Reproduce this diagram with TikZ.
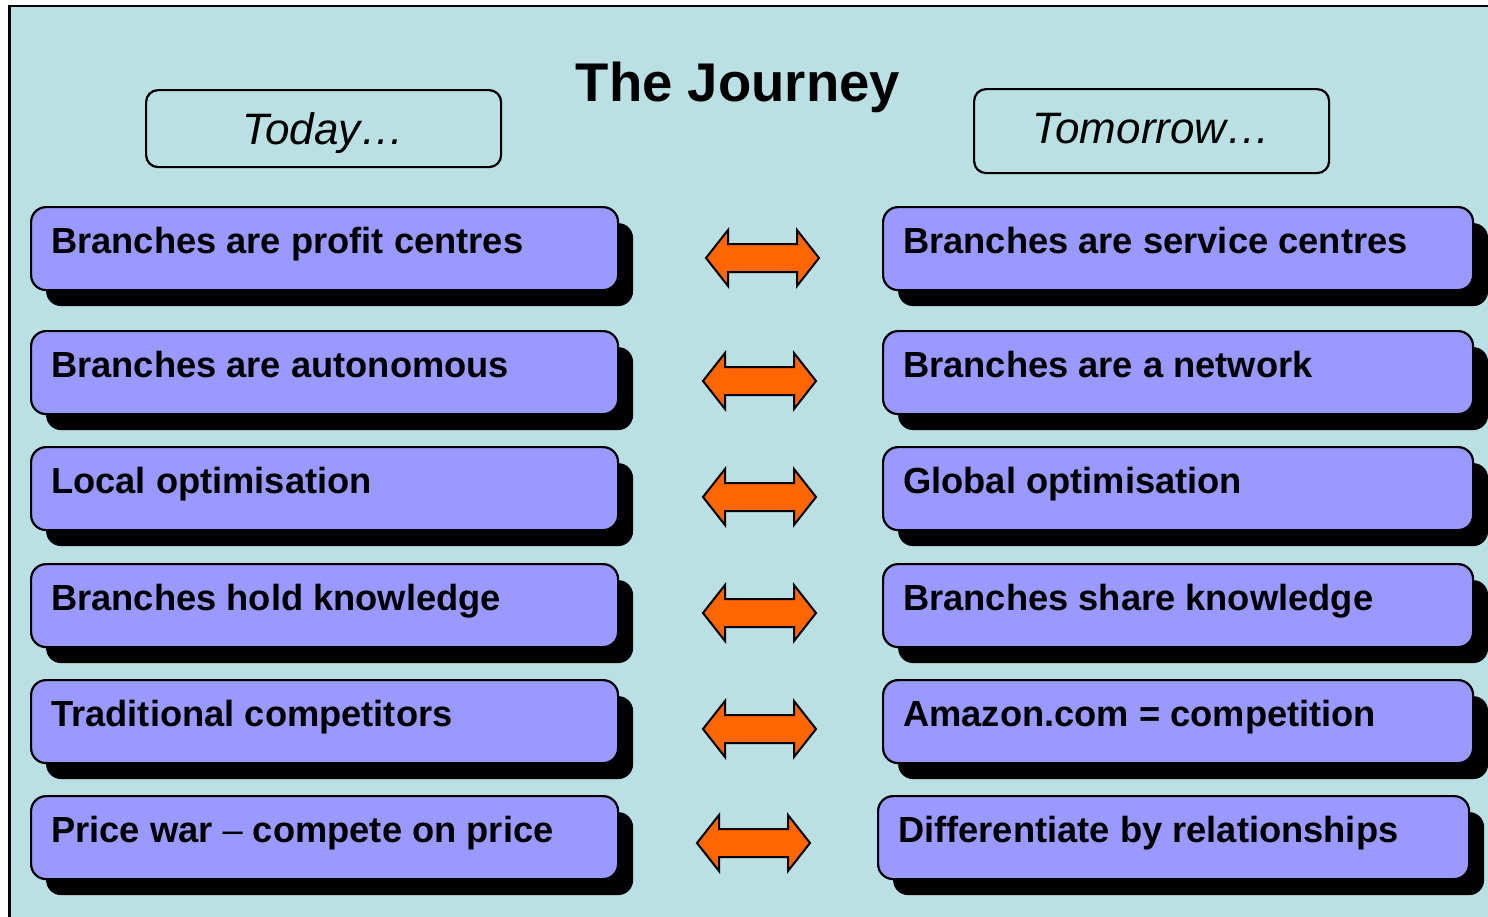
\documentclass[tikz,border=0pt]{standalone}
\usepackage{fontspec}
\setmainfont{Liberation Sans}
\usetikzlibrary{shadows}

\definecolor{slidebg}{HTML}{BBE0E3}
\definecolor{boxfill}{HTML}{9999FF}
\definecolor{arrowfill}{HTML}{FF6600}

\tikzset{
  statebox/.style={draw=black, line width=2.2pt, fill=boxfill, rounded corners=15pt,
    minimum width=587pt, minimum height=83pt, anchor=north west, inner sep=0pt,
    drop shadow={shadow xshift=15pt, shadow yshift=-16pt, fill=black, opacity=1}},
  statetext/.style={anchor=base west, inner sep=0pt, font=\fontsize{36.3}{40}\selectfont\bfseries},
  headbox/.style={draw=black, line width=2.2pt, rounded corners=12pt, anchor=north west,
    inner sep=0pt},
  headtext/.style={anchor=base, inner sep=0pt, font=\fontsize{44}{48}\selectfont\itshape},
  arrowline/.style={draw=black, line width=2pt, fill=arrowfill, line join=miter},
  pics/twoway/.style={code={
    \path[arrowline] (-56.5,0) -- (-34.5,-28) -- (-34.5,-14) -- (34.5,-14) -- (34.5,-28)
      -- (56.5,0) -- (34.5,28) -- (34.5,14) -- (-34.5,14) -- (-34.5,28) -- cycle;}}
}

\begin{document}
\begin{tikzpicture}[x=1pt, y=-1pt]
  \useasboundingbox (0,0) rectangle (1488,916);
  \clip (0,0) rectangle (1488,916);
  \fill[white] (0,0) rectangle (1488,916);
  % slide background, running off the right and bottom edges
  \draw[line width=2.5pt, fill=slidebg] (9.5,6) rectangle (1510,940);

  % title and column headings
  \node[anchor=base, inner sep=0pt, font=\fontsize{54.5}{60}\selectfont\bfseries] (title) at (738,101) {The Journey};
  \node[headbox, minimum width=355pt, minimum height=77pt] (today) at (145,89) {};
  \node[headtext] (todaytext) at ([yshift=-15.5pt]today.center) {Today…};
  \node[headbox, minimum width=355pt, minimum height=84pt] (tomorrow) at (973,88) {};
  \node[headtext] (tomorrowtext) at ([yshift=-12pt]tomorrow.center) {Tomorrow…};

  % row 1
  \node[statebox] (L1) at (30,206) {};
  \node[statetext] (L1t) at ([xshift=21pt, yshift=-47.5pt]L1.north west) {Branches are profit centres};
  \node[statebox, minimum width=590pt] (R1) at (882,206) {};
  \node[statetext] (R1t) at ([xshift=21pt, yshift=-47.5pt]R1.north west) {Branches are service centres};
  \coordinate (A1) at (762.5,258);
  \pic at (A1) {twoway};

  % row 2
  \node[statebox] (L2) at (30,330) {};
  \node[statetext] (L2t) at ([xshift=21pt, yshift=-47.5pt]L2.north west) {Branches are autonomous};
  \node[statebox, minimum width=590pt] (R2) at (882,330) {};
  \node[statetext] (R2t) at ([xshift=21pt, yshift=-47.5pt]R2.north west) {Branches are a network};
  \coordinate (A2) at (759.5,381);
  \pic at (A2) {twoway};

  % row 3
  \node[statebox] (L3) at (30,446) {};
  \node[statetext] (L3t) at ([xshift=21pt, yshift=-47.5pt]L3.north west) {Local optimisation};
  \node[statebox, minimum width=590pt] (R3) at (882,446) {};
  \node[statetext] (R3t) at ([xshift=21pt, yshift=-47.5pt]R3.north west) {Global optimisation};
  \coordinate (A3) at (759.5,497);
  \pic at (A3) {twoway};

  % row 4
  \node[statebox] (L4) at (30,563) {};
  \node[statetext] (L4t) at ([xshift=21pt, yshift=-47.5pt]L4.north west) {Branches hold knowledge};
  \node[statebox, minimum width=590pt] (R4) at (882,563) {};
  \node[statetext] (R4t) at ([xshift=21pt, yshift=-47.5pt]R4.north west) {Branches share knowledge};
  \coordinate (A4) at (759.5,613);
  \pic at (A4) {twoway};

  % row 5
  \node[statebox] (L5) at (30,679) {};
  \node[statetext] (L5t) at ([xshift=21pt, yshift=-47.5pt]L5.north west) {Traditional competitors};
  \node[statebox, minimum width=590pt] (R5) at (882,679) {};
  \node[statetext] (R5t) at ([xshift=21pt, yshift=-47.5pt]R5.north west) {Amazon.com = competition};
  \coordinate (A5) at (759.5,729);
  \pic at (A5) {twoway};

  % row 6
  \node[statebox] (L6) at (30,795) {};
  \node[statetext] (L6t) at ([xshift=21pt, yshift=-47.5pt]L6.north west) {Price war {\mdseries –} compete on price};
  \node[statebox, minimum width=591pt] (R6) at (877,795) {};
  \node[statetext] (R6t) at ([xshift=21pt, yshift=-47.5pt]R6.north west) {Differentiate by relationships};
  \coordinate (A6) at (753.5,843);
  \pic at (A6) {twoway};
\end{tikzpicture}
\end{document}
